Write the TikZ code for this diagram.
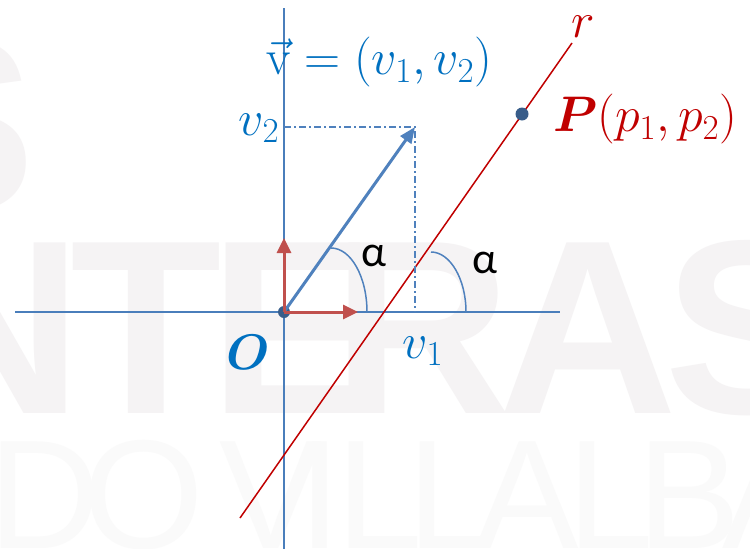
\RequirePackage{fix-cm}
\documentclass[tikz,border=0pt]{standalone}
\usepackage{amsmath}
\usepackage{fontspec}
\newfontfamily\wmfont{Liberation Sans}
\newfontfamily\alphafont{Carlito}
\usetikzlibrary{arrows.meta}
\definecolor{axisblue}{HTML}{4A7EBB}
\definecolor{vecblue}{HTML}{4F81BD}
\definecolor{textblue}{HTML}{0070C0}
\definecolor{arrowred}{HTML}{C0504D}
\definecolor{linered}{HTML}{C00000}
\definecolor{dotblue}{HTML}{385D8A}
\definecolor{wmA}{HTML}{F5F3F4}
\definecolor{wmB}{HTML}{FAFAFA}
\tikzset{
  axisline/.style={draw=axisblue, line width=1.5pt},
  unitvec/.style={draw=arrowred, line width=3pt, -{Triangle[length=15pt,width=14pt]}},
  vecarrow/.style={draw=vecblue, line width=3pt, -{Triangle[length=16pt,width=13pt]}},
  proj/.style={draw=vecblue, line width=1.2pt, dash pattern=on 7pt off 3pt on 2pt off 3pt},
  rline/.style={draw=linered, line width=1.5pt},
  anglearc/.style={draw=vecblue, line width=1.5pt},
  ptdot/.style={circle, fill=dotblue, inner sep=0pt, minimum size=12pt},
  lbl/.style={inner sep=0pt, font=\fontsize{50}{54}\selectfont},
  alphalbl/.style={inner sep=0pt, font=\alphafont\fontsize{44}{48}\selectfont},
  wmbig/.style={inner sep=0pt, anchor=base west, text=wmA, font=\wmfont\bfseries\fontsize{248}{248}\selectfont},
  wmthin/.style={inner sep=0pt, anchor=base west, text=wmB, font=\wmfont\fontsize{155}{155}\selectfont},
}
\begin{document}
\begin{tikzpicture}[x=1pt,y=-1pt]
\useasboundingbox (0,0) rectangle (750,549);
\fill[white] (0,0) rectangle (750,549);
% watermark
\begin{scope}
\clip (0,0) rectangle (750,549);
\node[wmbig] (wS0) at (-130,211) {S};
\node[wmbig] (wN) at (-97,413) {N};
\node[wmbig] (wT) at (70,413) {T};
\node[wmbig] (wE) at (209,413) {E};
\node[wmbig] (wR) at (332,413) {R};
\node[wmbig] (wA) at (498,413) {A};
\node[wmbig] (wS) at (664,413) {S};
\node[wmthin] (wD) at (-12,548) {D};
\node[wmthin] (wO) at (83,548) {O};
\node[wmthin] (wV) at (219,548) {V};
\node[wmthin] (wI) at (298,548) {I};
\node[wmthin] (wL1) at (336,548) {L};
\node[wmthin] (wL2) at (407,548) {L};
\node[wmthin] (wA1) at (475,548) {A};
\node[wmthin] (wL3) at (567,548) {L};
\node[wmthin] (wB) at (637,548) {B};
\node[wmthin] (wA2) at (722,548) {A};
\end{scope}
% coordinates
\coordinate (O) at (284,312);
\coordinate (yTop) at (284,8);
\coordinate (yBot) at (284,549);
\coordinate (xL) at (15,312);
\coordinate (xR) at (560,312);
\coordinate (vtip) at (415,127);
\coordinate (v2ax) at (284,127);
\coordinate (v1ax) at (415,312);
\coordinate (e1) at (358,312);
\coordinate (e2) at (284,238);
\coordinate (rA) at (240,518);
\coordinate (rB) at (572,43);
\coordinate (a1s) at (331,248);
\coordinate (a1e) at (367,312);
\coordinate (a2s) at (431,252);
\coordinate (a2e) at (466,312);
% axes
\draw[axisline] (xL) -- (xR);
\draw[axisline] (yTop) -- (yBot);
% line r
\draw[rline] (rA) -- (rB);
% projections
\draw[proj] (v2ax) -- (vtip) -- (v1ax);
% angle arcs
\draw[anglearc] (a1s) .. controls (351,248) and (367,277) .. (a1e);
\draw[anglearc] (a2s) .. controls (450,252) and (466,279) .. (a2e);
% origin dot
\node[ptdot] (Odot) at (O) {};
% vectors
\draw[vecarrow] (O) -- (vtip);
\draw[unitvec] (O) -- (e1);
\draw[unitvec] (O) -- (e2);
% point P
\node[ptdot, minimum size=13pt] (P) at (522,114) {};
% labels
\node[lbl, text=textblue] (veq) at (379,62) {$\vec{\mathrm{v}} = (v_1, v_2)$};
\node[lbl, text=textblue] (v2lbl) at (259,128) {$v_2$};
\node[lbl, text=textblue] (v1lbl) at (423,351) {$v_1$};
\node[lbl, text=textblue] (Olbl) at (248,352) {$\boldsymbol{O}$};
\node[lbl, text=linered] (rlbl) at (583,27) {$r$};
\node[lbl, text=linered, anchor=west] (Plbl) at (553,119) {$\boldsymbol{P}(p_1,p_2)$};
\node[alphalbl] (al1) at (374,256) {α};
\node[alphalbl] (al2) at (485,263) {α};
\end{tikzpicture}
\end{document}
